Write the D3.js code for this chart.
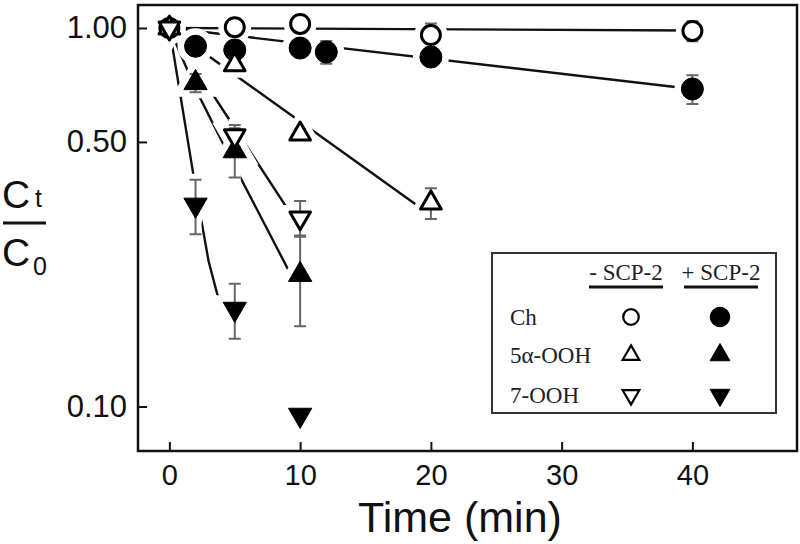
<!DOCTYPE html>
<html>
<head>
<meta charset="utf-8">
<script src="https://cdn.jsdelivr.net/npm/d3@7/dist/d3.min.js"></script>
<style>
  html, body { margin: 0; padding: 0; background: #fff; }
  svg { display: block; }
</style>
</head>
<body>
<div id="chart"></div>
<script>
// measured points: time (min), Ct/C0, error
const chMinusT = [0, 5, 10, 20, 40];
const chMinusV = [1.0, 1.005, 1.025, 0.958, 0.982];
const chMinusE = [0, 0, 0, 0.07, 0.06];

const chPlusT = [2, 5, 10, 12, 20, 40];
const chPlusV = [0.895, 0.875, 0.885, 0.864, 0.838, 0.69];
const chPlusE = [0, 0, 0, 0.06, 0, 0.06];

const ooh5MinusT = [0, 5, 10, 20];
const ooh5MinusV = [1.0, 0.80, 0.525, 0.345];
const ooh5MinusE = [0, 0.02, 0.015, 0.032];

const ooh5PlusT = [2, 5, 10];
const ooh5PlusV = [0.716, 0.473, 0.223];
const ooh5PlusE = [0.04, 0.07, 0.06];

const ooh7MinusT = [0, 5, 10];
const ooh7MinusV = [1.0, 0.519, 0.315];
const ooh7MinusE = [0, 0.035, 0.034];

const ooh7PlusT = [2, 5, 10];
const ooh7PlusV = [0.341, 0.181, 0.095];
const ooh7PlusE = [0.056, 0.03, 0];

// fitted decay curves
const fitChMinusT = [0, 40];
const fitChMinusV = [1.0, 0.985];
const fitChPlusT = [0, 40];
const fitChPlusV = [1.0, 0.69];
const fit5MinusT = [0, 20];
const fit5MinusV = [1.0, 0.32];
const fit5PlusT = [0, 2, 5, 10];
const fit5PlusV = [1.0, 0.69, 0.43, 0.20];
const fit7MinusT = [0, 10];
const fit7MinusV = [1.0, 0.296];
const fit7PlusT = [0, 1, 2, 3, 3.8];
const fit7PlusV = [1.0, 0.615, 0.378, 0.242, 0.19];

const xTicks = [0, 10, 20, 30, 40];
const yTicks = [0.10, 0.50, 1.00];
const legendRows = ['Ch', '5\u03b1-OOH', '7-OOH'];
const legendCols = ['- SCP-2', '+ SCP-2'];

const W = 800, H = 544;
const svg = d3.select('#chart').append('svg')
  .attr('width', W)
  .attr('height', H);

const x = d3.scaleLinear().domain([-2.4, 48]).range([138, 797]);
const y = d3.scaleLog().domain([0.0763, 1.15]).range([451, 5]);

const zip = (t, v, e) => t.map((d, i) => ({ t: d, v: v[i], e: e ? e[i] : 0 }));

const series = [
  { shape: 'circle', up: true, filled: true, pts: zip(chPlusT, chPlusV, chPlusE), fit: zip(fitChPlusT, fitChPlusV) },
  { shape: 'triangle', up: true, filled: true, pts: zip(ooh5PlusT, ooh5PlusV, ooh5PlusE), fit: zip(fit5PlusT, fit5PlusV) },
  { shape: 'triangle', up: false, filled: true, pts: zip(ooh7PlusT, ooh7PlusV, ooh7PlusE), fit: zip(fit7PlusT, fit7PlusV) },
  { shape: 'circle', up: true, filled: false, pts: zip(chMinusT, chMinusV, chMinusE), fit: zip(fitChMinusT, fitChMinusV) },
  { shape: 'triangle', up: true, filled: false, pts: zip(ooh5MinusT, ooh5MinusV, ooh5MinusE), fit: zip(fit5MinusT, fit5MinusV) },
  { shape: 'triangle', up: false, filled: false, pts: zip(ooh7MinusT, ooh7MinusV, ooh7MinusE), fit: zip(fit7MinusT, fit7MinusV) }
];

function symbolPath(s, small) {
  let size;
  if (s.shape === 'circle') size = s.filled ? (small ? 300 : 380) : (small ? 190 : 283);
  else size = s.filled ? (small ? 170 : 235) : (small ? 120 : 185);
  const type = s.shape === 'circle' ? d3.symbolCircle : d3.symbolTriangle;
  return d3.symbol().type(type).size(size)();
}

function placeMarker(sel, s, cx, cy) {
  return sel
    .attr('d', symbolPath(s, false))
    .attr('transform', `translate(${cx},${cy})` + (s.up ? '' : ' rotate(180)'));
}

// fit lines
const lineGen = d3.line().x(d => x(d.t)).y(d => y(d.v));
const lineGroup = svg.append('g').attr('class', 'fits');
series.forEach(s => {
  lineGroup.append('path')
    .attr('d', lineGen(s.fit))
    .attr('fill', 'none')
    .attr('stroke', '#111')
    .attr('stroke-width', 2.4);
});

// white halos so lines break around the symbols and bars
const haloGroup = svg.append('g').attr('class', 'halos');
const barGroup = svg.append('g').attr('class', 'errbars');
const capW = 6;
series.forEach(s => {
  s.pts.forEach(p => {
    if (p.e > 0) {
      const y1 = y(p.v + p.e), y2 = y(p.v - p.e), cx = x(p.t);
      const bar = `M${cx},${y1}V${y2}M${cx - capW},${y1}H${cx + capW}M${cx - capW},${y2}H${cx + capW}`;
      haloGroup.append('path').attr('d', bar)
        .attr('fill', 'none').attr('stroke', '#fff').attr('stroke-width', 12);
      barGroup.append('path').attr('d', bar)
        .attr('fill', 'none').attr('stroke', '#666').attr('stroke-width', 2);
    }
    placeMarker(haloGroup.append('path'), s, x(p.t), y(p.v))
      .attr('fill', '#fff')
      .attr('stroke', '#fff')
      .attr('stroke-width', 14);
  });
});

// markers
const markGroup = svg.append('g').attr('class', 'marks');
series.forEach(s => {
  s.pts.forEach(p => {
    placeMarker(markGroup.append('path'), s, x(p.t), y(p.v))
      .attr('fill', s.filled ? '#000' : '#fff')
      .attr('stroke', '#000')
      .attr('stroke-width', s.filled ? 1 : 3)
      .attr('stroke-linejoin', 'round');
  });
});

// axes
const sans = "'Liberation Sans', Arial, sans-serif";
const xAxis = svg.append('g')
  .attr('transform', 'translate(0,451)')
  .call(d3.axisBottom(x).tickValues(xTicks).tickSize(-9).tickPadding(13));
const yAxis = svg.append('g')
  .attr('transform', 'translate(138,0)')
  .call(d3.axisLeft(y).tickValues(yTicks).tickFormat(d3.format('.2f')).tickSize(-9).tickPadding(11));
[xAxis, yAxis].forEach(a => {
  a.select('.domain').remove();
  a.selectAll('line').attr('stroke', '#111').attr('stroke-width', 2);
  a.selectAll('text')
    .attr('fill', '#111')
    .attr('font-family', sans)
    .attr('font-size', 31);
});
xAxis.selectAll('text').attr('font-size', 29);

svg.append('rect')
  .attr('x', 138).attr('y', 5)
  .attr('width', 797 - 138).attr('height', 451 - 5)
  .attr('fill', 'none')
  .attr('stroke', '#111')
  .attr('stroke-width', 2.5);

// axis titles
svg.append('text')
  .attr('x', 460).attr('y', 532)
  .attr('text-anchor', 'middle')
  .attr('font-family', sans)
  .attr('font-size', 43)
  .attr('fill', '#111')
  .text('Time (min)');

const yl = svg.append('g').attr('font-family', sans).attr('fill', '#111');
yl.append('text').attr('x', 2).attr('y', 208).attr('font-size', 39).text('C');
yl.append('text').attr('x', 35).attr('y', 207).attr('font-size', 25).text('t');
yl.append('line').attr('x1', 3).attr('x2', 46).attr('y1', 223).attr('y2', 223)
  .attr('stroke', '#111').attr('stroke-width', 3);
yl.append('text').attr('x', 2).attr('y', 266).attr('font-size', 39).text('C');
yl.append('text').attr('x', 33).attr('y', 275).attr('font-size', 25).text('0');

// legend
const serif = "'Liberation Serif', 'Times New Roman', serif";
const lg = svg.append('g').attr('class', 'legend');
lg.append('rect')
  .attr('x', 492).attr('y', 253)
  .attr('width', 776 - 492).attr('height', 413 - 253)
  .attr('fill', '#fff')
  .attr('stroke', '#333')
  .attr('stroke-width', 2);

const colX = [626, 721];
const rowY = [317, 355, 395];
legendCols.forEach((c, i) => {
  lg.append('text')
    .attr('x', colX[i]).attr('y', 280)
    .attr('text-anchor', 'middle')
    .attr('font-family', serif)
    .attr('font-size', 23)
    .attr('fill', '#222')
    .text(c);
  lg.append('line')
    .attr('x1', colX[i] - 37).attr('x2', colX[i] + 37)
    .attr('y1', 287).attr('y2', 287)
    .attr('stroke', '#111').attr('stroke-width', 3);
});
legendRows.forEach((r, j) => {
  lg.append('text')
    .attr('x', 510).attr('y', rowY[j] + 8)
    .attr('font-family', serif)
    .attr('font-size', 23)
    .attr('fill', '#222')
    .text(r);
  // minus series are indices 3..5, plus series 0..2
  [series[3 + j], series[j]].forEach((s, i) => {
    lg.append('path')
      .attr('d', symbolPath(s, true))
      .attr('transform', `translate(${i === 0 ? 631 : 720},${rowY[j]})` + (s.up ? '' : ' rotate(180)'))
      .attr('fill', s.filled ? '#000' : '#fff')
      .attr('stroke', '#000')
      .attr('stroke-width', s.filled ? 1 : 2.2);
  });
});
</script>
</body>
</html>
